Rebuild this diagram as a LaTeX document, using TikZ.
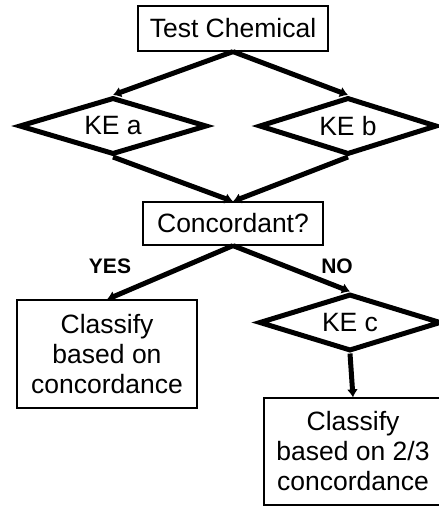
\documentclass[tikz,border=0pt]{standalone}
\usepackage{fontspec}
\setmainfont{Liberation Sans}
\usetikzlibrary{shapes.geometric}
\usetikzlibrary{arrows.meta}
\tikzset{
  box/.style={draw, line width=1.2pt, align=center, inner sep=2pt,
    font=\fontsize{26.5}{30}\selectfont},
  ke/.style={diamond, aspect=3, draw, line width=5pt, inner sep=0pt,
    minimum width=#1, minimum height=57pt, font=\fontsize{26.5}{30}\selectfont},
  ke/.default=184pt,
  flow/.style={line width=5pt, -{Latex[length=8pt,width=11pt]}},
  lab/.style={font=\bfseries\fontsize{21}{24}\selectfont}
}

\begin{document}
\begin{tikzpicture}[x=1pt,y=-1pt]
\fill[white] (0,0) rectangle (439,506);
\useasboundingbox (0,0) rectangle (439,506);
% boxes and decisions
\node[box, minimum width=190pt, minimum height=45pt] (test) at (233,28.5) {Test Chemical};
\node[ke=188pt] (kea) at (113,126) {KE a};
\node[ke=178pt] (keb) at (348,126) {KE b};
\node[box, minimum width=180pt, minimum height=43pt] (conc) at (233,223.5) {Concordant?};
\node[box, minimum width=180pt, minimum height=108pt] (clsa) at (107,354) {Classify\\based on\\concordance};
\node[ke=182pt] (kec) at (350,322.5) {KE c};
\node[box, minimum width=178pt, minimum height=107pt] (clsb) at (353,451.5) {Classify\\based on 2/3\\concordance};
\node[lab] (yes) at (110,266) {YES};
\node[lab] (no) at (337,266) {NO};
% connectors
\draw[flow] (test.south) -- (kea.north);
\draw[flow] (test.south) -- (keb.north);
\draw[flow] (kea.south) -- (conc.north);
\draw[flow] (keb.south) -- (conc.north);
\draw[flow] (conc.south) -- (clsa.north);
\draw[flow] (conc.south) -- (kec.north);
\draw[flow] (kec.south) -- (clsb.north);
\end{tikzpicture}
\end{document}
